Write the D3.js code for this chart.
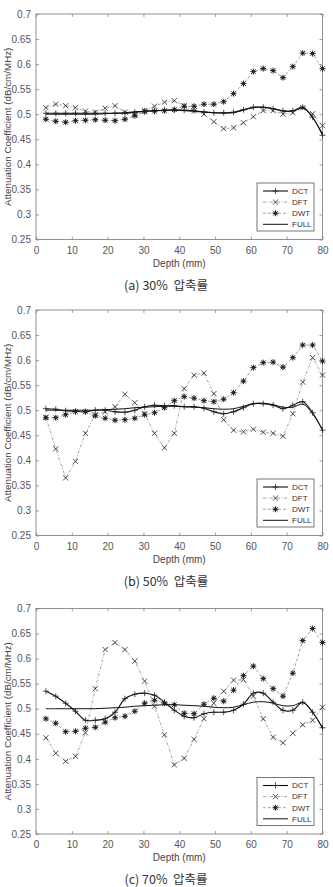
<!DOCTYPE html>
<html>
<head>
<meta charset="utf-8">
<script src="https://cdn.jsdelivr.net/npm/d3@7"></script>
<style>
  body { margin: 0; background: #fff; }
</style>
</head>
<body>
<svg id="chart"></svg>
<script>
var depth = [2.76, 5.52, 8.28, 11.03, 13.79, 16.55, 19.31, 22.07, 24.83, 27.59, 30.34, 33.10, 35.86, 38.62, 41.38,
             44.14, 46.90, 49.66, 52.41, 55.17, 57.93, 60.69, 63.45, 66.21, 68.97, 71.72, 74.48, 77.24, 80.00];

var full  = [0.500, 0.500, 0.500, 0.500, 0.500, 0.500, 0.501, 0.502, 0.503, 0.505, 0.506, 0.507, 0.508, 0.508, 0.507,
             0.506, 0.505, 0.503, 0.502, 0.503, 0.508, 0.513, 0.514, 0.511, 0.506, 0.506, 0.512, 0.493, 0.461];

var dct30 = [0.502, 0.502, 0.502, 0.502, 0.502, 0.502, 0.502, 0.502, 0.502, 0.504, 0.506, 0.507, 0.508, 0.509, 0.508,
             0.507, 0.504, 0.503, 0.503, 0.504, 0.509, 0.514, 0.514, 0.511, 0.507, 0.507, 0.514, 0.494, 0.458];
var dft30 = [0.513, 0.520, 0.517, 0.513, 0.506, 0.504, 0.512, 0.517, 0.504, 0.499, 0.507, 0.516, 0.524, 0.527, 0.517,
             0.507, 0.500, 0.485, 0.471, 0.473, 0.483, 0.495, 0.507, 0.507, 0.500, 0.503, 0.513, 0.501, 0.477];
var dwt30 = [0.490, 0.486, 0.484, 0.487, 0.488, 0.489, 0.488, 0.487, 0.490, 0.497, 0.505, 0.506, 0.507, 0.509, 0.516,
             0.516, 0.520, 0.520, 0.525, 0.541, 0.561, 0.585, 0.591, 0.587, 0.573, 0.595, 0.622, 0.621, 0.591];

var dct50 = [0.503, 0.502, 0.499, 0.498, 0.497, 0.500, 0.500, 0.497, 0.496, 0.500, 0.507, 0.510, 0.509, 0.509, 0.507,
             0.507, 0.504, 0.497, 0.493, 0.497, 0.505, 0.513, 0.513, 0.510, 0.503, 0.510, 0.517, 0.495, 0.460];
var dft50 = [0.486, 0.423, 0.365, 0.398, 0.454, 0.491, 0.497, 0.507, 0.532, 0.515, 0.493, 0.454, 0.425, 0.454, 0.543,
             0.570, 0.574, 0.533, 0.481, 0.460, 0.457, 0.462, 0.456, 0.454, 0.448, 0.493, 0.556, 0.605, 0.570];
var dwt50 = [0.485, 0.485, 0.491, 0.497, 0.497, 0.489, 0.484, 0.480, 0.481, 0.484, 0.491, 0.495, 0.505, 0.519, 0.527,
             0.524, 0.519, 0.517, 0.522, 0.535, 0.558, 0.585, 0.595, 0.596, 0.586, 0.605, 0.630, 0.630, 0.598];

var dct70 = [0.535, 0.525, 0.511, 0.495, 0.477, 0.477, 0.480, 0.493, 0.520, 0.529, 0.531, 0.527, 0.513, 0.497, 0.485,
             0.482, 0.490, 0.493, 0.493, 0.497, 0.509, 0.531, 0.531, 0.513, 0.497, 0.497, 0.513, 0.493, 0.462];
var dft70 = [0.442, 0.411, 0.395, 0.405, 0.452, 0.540, 0.618, 0.632, 0.618, 0.595, 0.555, 0.505, 0.448, 0.388, 0.401,
             0.439, 0.480, 0.511, 0.535, 0.557, 0.558, 0.525, 0.480, 0.443, 0.432, 0.451, 0.468, 0.477, 0.503];
var dwt70 = [0.480, 0.471, 0.454, 0.455, 0.461, 0.463, 0.473, 0.482, 0.485, 0.495, 0.511, 0.517, 0.511, 0.508, 0.491,
             0.490, 0.509, 0.521, 0.515, 0.537, 0.566, 0.585, 0.560, 0.540, 0.525, 0.571, 0.636, 0.660, 0.632];

var captions = ["(a) 30%\u00a0 압축률", "(b) 50%\u00a0 압축률", "(c) 70%\u00a0 압축률"];
var legendNames = ["DCT", "DFT", "DWT", "FULL"];
var xTicks = [0, 10, 20, 30, 40, 50, 60, 70, 80];
var yTicks = [0.25, 0.3, 0.35, 0.4, 0.45, 0.5, 0.55, 0.6, 0.65, 0.7];

var w = 333, h = 887;
var left = 36, right = 322.5;
var panelTop = [14, 310, 608.5];
var panelH = 225.5;
var latin = "'Liberation Sans', Arial, sans-serif";

// line styles for DCT, DFT, DWT, FULL
var styles = [
  {stroke: "#111", width: 1.1, dash: null, marker: "plus"},
  {stroke: "#666", width: 0.6, dash: "3,1.5,1,1.5", marker: "cross"},
  {stroke: "#666", width: 0.6, dash: "3,2", marker: "star"},
  {stroke: "#111", width: 1.0, dash: null, marker: null}
];

var svg = d3.select("#chart")
  .attr("width", w)
  .attr("height", h);

var xScale = d3.scaleLinear()
  .domain([0, 80])
  .range([left, right]);

function markerPath(type, x, y){
  var s = 3, d = 2.3;
  if (type == "plus") {
    return "M" + (x - s) + "," + y + "H" + (x + s) + "M" + x + "," + (y - s) + "V" + (y + s);
  }
  if (type == "cross") {
    s = 2.6;
    return "M" + (x - s) + "," + (y - s) + "L" + (x + s) + "," + (y + s) +
           "M" + (x - s) + "," + (y + s) + "L" + (x + s) + "," + (y - s);
  }
  // star = plus + cross
  return "M" + (x - s) + "," + y + "H" + (x + s) + "M" + x + "," + (y - s) + "V" + (y + s) +
         "M" + (x - d) + "," + (y - d) + "L" + (x + d) + "," + (y + d) +
         "M" + (x - d) + "," + (y + d) + "L" + (x + d) + "," + (y - d);
}

function drawPanel(k, series){
  var top = panelTop[k];
  var bottom = top + panelH;
  var yScale = d3.scaleLinear()
    .domain([0.25, 0.7])
    .range([bottom, top]);

  var g = svg.append("g").attr("class", "panel");

  // axes, ticks pointing inward like matlab
  var ax = g.append("g").attr("color", "#777").attr("font-family", latin).attr("font-size", 8.5);

  ax.append("g")
    .attr("transform", "translate(0," + bottom + ")")
    .call(d3.axisBottom(xScale).tickValues(xTicks).tickSizeInner(-3).tickSizeOuter(0).tickPadding(7));
  ax.append("g")
    .attr("transform", "translate(0," + top + ")")
    .call(d3.axisTop(xScale).tickValues(xTicks).tickSizeInner(-3).tickSizeOuter(0).tickFormat(""));
  ax.append("g")
    .attr("transform", "translate(" + left + ",0)")
    .call(d3.axisLeft(yScale).tickValues(yTicks).tickSizeInner(-3).tickSizeOuter(0).tickPadding(5)
      .tickFormat(function(d){ return d; }));
  ax.append("g")
    .attr("transform", "translate(" + right + ",0)")
    .call(d3.axisRight(yScale).tickValues(yTicks).tickSizeInner(-3).tickSizeOuter(0).tickFormat(""));

  ax.selectAll(".domain").remove();
  ax.selectAll("text").attr("fill", "#555");
  ax.selectAll(".tick line").attr("stroke-width", 0.7);

  g.append("rect")
    .attr("x", left)
    .attr("y", top)
    .attr("width", right - left)
    .attr("height", panelH)
    .attr("fill", "none")
    .attr("stroke", "#777")
    .attr("stroke-width", 0.8);

  // series lines
  series.forEach(function(vals, s){
    var st = styles[s];
    var line = d3.line()
      .x(function(d, i){ return xScale(depth[i]); })
      .y(function(d){ return yScale(d); })
      .curve((s == 0 || s == 3) ? d3.curveCatmullRom : d3.curveLinear);

    g.append("path")
      .datum(vals)
      .attr("d", line)
      .attr("fill", "none")
      .attr("stroke", st.stroke)
      .attr("stroke-width", st.width)
      .attr("stroke-dasharray", st.dash);

    if (st.marker) {
      g.selectAll(".m" + s)
        .data(vals)
        .enter()
        .append("path")
        .attr("class", "m" + s)
        .attr("d", function(d, i){ return markerPath(st.marker, xScale(depth[i]), yScale(d)); })
        .attr("fill", "none")
        .attr("stroke", "#222")
        .attr("stroke-width", st.marker == "star" ? 1.0 : 0.8);
      if (st.marker == "star") {
        g.selectAll(".c" + s)
          .data(vals)
          .enter()
          .append("circle")
          .attr("class", "c" + s)
          .attr("cx", function(d, i){ return xScale(depth[i]); })
          .attr("cy", function(d){ return yScale(d); })
          .attr("r", 1.4)
          .attr("fill", "#222");
      }
    }
  });

  // legend
  var lgW = 57, lgH = 48;
  var lgX = right - 8.5 - lgW;
  var lgY = bottom - 8.5 - lgH;
  var lg = g.append("g");
  lg.append("rect")
    .attr("x", lgX)
    .attr("y", lgY)
    .attr("width", lgW)
    .attr("height", lgH)
    .attr("fill", "#fff")
    .attr("stroke", "#555")
    .attr("stroke-width", 0.8);

  legendNames.forEach(function(name, s){
    var st = styles[s];
    var ly = lgY + 8 + s * 11.1;
    lg.append("line")
      .attr("x1", lgX + 6)
      .attr("x2", lgX + 31)
      .attr("y1", ly)
      .attr("y2", ly)
      .attr("stroke", st.stroke)
      .attr("stroke-width", st.width)
      .attr("stroke-dasharray", st.dash);
    if (st.marker) {
      lg.append("path")
        .attr("d", markerPath(st.marker, lgX + 18.5, ly))
        .attr("fill", "none")
        .attr("stroke", "#222")
        .attr("stroke-width", st.marker == "star" ? 1.0 : 0.8);
      if (st.marker == "star") {
        lg.append("circle").attr("cx", lgX + 18.5).attr("cy", ly).attr("r", 1.4).attr("fill", "#222");
      }
    }
    lg.append("text")
      .attr("x", lgX + 35)
      .attr("y", ly)
      .attr("dy", "0.35em")
      .attr("font-family", latin)
      .attr("font-size", 8)
      .attr("fill", "#333")
      .text(name);
  });

  // axis labels
  g.append("text")
    .attr("x", (left + right) / 2)
    .attr("y", bottom + 27)
    .attr("text-anchor", "middle")
    .attr("font-family", latin)
    .attr("font-size", 10)
    .attr("fill", "#444")
    .text("Depth (mm)");

  g.append("text")
    .attr("transform", "translate(10.5," + ((top + bottom) / 2) + ") rotate(-90)")
    .attr("text-anchor", "middle")
    .attr("font-family", latin)
    .attr("font-size", 9.8)
    .attr("fill", "#444")
    .text("Attenuation Coefficient (dB/cm/MHz)");

  g.append("text")
    .attr("x", 166)
    .attr("y", bottom + 50)
    .attr("text-anchor", "middle")
    .attr("font-family", "'Noto Sans CJK KR', sans-serif")
    .attr("font-size", 12.5)
    .attr("fill", "#333")
    .text(captions[k]);
}

drawPanel(0, [dct30, dft30, dwt30, full]);
drawPanel(1, [dct50, dft50, dwt50, full]);
drawPanel(2, [dct70, dft70, dwt70, full]);
</script>
</body>
</html>
